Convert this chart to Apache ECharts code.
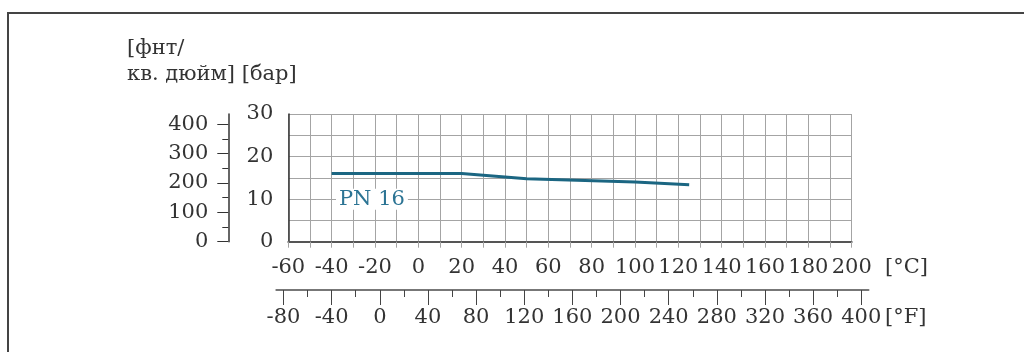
<!DOCTYPE html>
<html>
<head>
<meta charset="utf-8">
<script src="https://cdn.jsdelivr.net/npm/echarts@6/dist/echarts.min.js"></script>
<style>
  html, body { margin: 0; padding: 0; background: #fff; overflow: hidden; }
  #chart { width: 1024px; height: 352px; }
</style>
</head>
<body>
<div id="chart"></div>
<script>
// pressure curve PN 16
const tempC = [-40, 20, 50, 100, 125];
const pressureBar = [16, 16, 14.8, 14.0, 13.4];

// tick labels
const celsiusLabels = [-60, -40, -20, 0, 20, 40, 60, 80, 100, 120, 140, 160, 180, 200];
const barLabels = [0, 10, 20, 30];
const psiMajor = [0, 100, 200, 300, 400];
const psiMinor = [50, 150, 250, 350];
const fahrenheitMajor = [-80, -40, 0, 40, 80, 120, 160, 200, 240, 280, 320, 360, 400];
const fahrenheitMinor = [-60, -20, 20, 60, 100, 140, 180, 220, 260, 300, 340, 380];

const seriesName = "PN 16";
const labelAt = [-21.4, 10];

const FONT = '"DejaVu Serif", serif';
const FS = 21;
const TEXT = "#333";
const LINE = "#1b6682";
const GRIDC = "#a4a4a4";
const PSI_PER_BAR = 14.5038;

const chart = echarts.init(document.getElementById("chart"));

const option = {
  animation: false,
  grid: [
    { left: 288.3, top: 114, width: 563.4, height: 127.7 },
    { left: 276.3, top: 289, width: 592.2, height: 1 },
  ],
  xAxis: [
    {
      type: "value", gridIndex: 0, min: -60, max: 200, interval: 10,
      axisLine: { onZero: false, lineStyle: { color: "#555", width: 2 } },
      axisTick: { show: true, length: 6, lineStyle: { color: GRIDC } },
      splitLine: { show: true, lineStyle: { color: GRIDC, width: 1 } },
      axisLabel: { customValues: celsiusLabels, fontSize: FS, fontFamily: FONT, color: TEXT, margin: 15 },
    },
    {
      type: "value", gridIndex: 1, min: -86, max: 406, position: "bottom",
      axisLine: { onZero: false, lineStyle: { color: "#777", width: 2 } },
      axisTick: { show: true, customValues: fahrenheitMajor, length: 15, lineStyle: { color: "#444" } },
      splitLine: { show: false },
      axisLabel: { customValues: fahrenheitMajor, fontSize: FS, fontFamily: FONT, color: TEXT, margin: 17 },
    },
    {
      type: "value", gridIndex: 1, min: -86, max: 406, position: "bottom",
      axisLine: { show: false, onZero: false },
      axisTick: { show: true, customValues: fahrenheitMinor, length: 7, lineStyle: { color: "#444" } },
      splitLine: { show: false },
      axisLabel: { show: false },
    },
  ],
  yAxis: [
    {
      type: "value", gridIndex: 0, min: 0, max: 30, interval: 5,
      axisLine: { show: true, onZero: false, lineStyle: { color: "#333", width: 1.5 } },
      axisTick: { show: false },
      splitLine: { show: true, lineStyle: { color: GRIDC, width: 1 } },
      axisLabel: { customValues: barLabels, fontSize: FS, fontFamily: FONT, color: TEXT, margin: 15 },
    },
    {
      type: "value", gridIndex: 0, position: "left", offset: 60,
      min: 0, max: 30 * PSI_PER_BAR,
      axisLine: { show: true, onZero: false, lineStyle: { color: "#333", width: 1.5 } },
      axisTick: { show: true, customValues: psiMajor, length: 11, lineStyle: { color: "#333" } },
      splitLine: { show: false },
      axisLabel: { customValues: psiMajor, fontSize: FS, fontFamily: FONT, color: TEXT, margin: 20 },
    },
    {
      type: "value", gridIndex: 0, position: "left", offset: 60,
      min: 0, max: 30 * PSI_PER_BAR,
      axisLine: { show: false, onZero: false },
      axisTick: { show: true, customValues: psiMinor, length: 6, lineStyle: { color: "#333" } },
      splitLine: { show: false },
      axisLabel: { show: false },
    },
    { type: "value", gridIndex: 1, min: 0, max: 1, show: false },
  ],
  series: [
    {
      type: "line",
      name: seriesName,
      xAxisIndex: 0,
      yAxisIndex: 0,
      data: tempC.map((t, i) => [t, pressureBar[i]]),
      symbol: "none",
      silent: true,
      lineStyle: { color: LINE, width: 3 },
      markPoint: {
        symbol: "circle",
        symbolSize: 0,
        silent: true,
        data: [{ coord: labelAt }],
        label: {
          show: true,
          position: "inside",
          formatter: seriesName,
          fontSize: FS,
          fontFamily: FONT,
          color: "#2c7494",
          backgroundColor: "#fff",
          padding: [0, 3],
        },
      },
    },
  ],
  graphic: [
    {
      type: "polyline", silent: true,
      shape: { points: [[8, 400], [8, 13], [1100, 13]] },
      style: { fill: null, stroke: "#444", lineWidth: 2 },
    },
    {
      type: "text", x: 127, y: 49,
      style: { text: "[фнт/", font: FS + "px " + FONT, fill: TEXT, verticalAlign: "middle" },
    },
    {
      type: "text", x: 127, y: 75,
      style: { text: "кв. дюйм] [бар]", font: FS + "px " + FONT, fill: TEXT, verticalAlign: "middle" },
    },
    {
      type: "text", x: 885, y: 268,
      style: { text: "[°C]", font: FS + "px " + FONT, fill: TEXT, verticalAlign: "middle" },
    },
    {
      type: "text", x: 885, y: 318,
      style: { text: "[°F]", font: FS + "px " + FONT, fill: TEXT, verticalAlign: "middle" },
    },
  ],
};

chart.setOption(option);
</script>
</body>
</html>
